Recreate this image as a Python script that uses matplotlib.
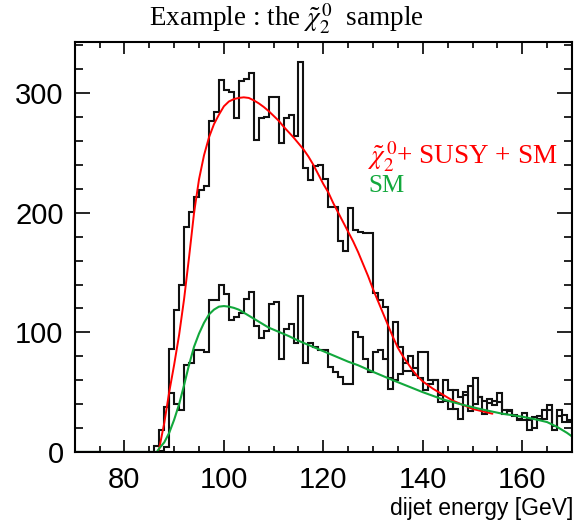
import numpy as np
import matplotlib
matplotlib.use("Agg")
import matplotlib.pyplot as plt

# ---- data -------------------------------------------------------------
# 1 GeV bins from 70 to 170 GeV; bins below 86 GeV are empty
bin_edges = np.arange(70, 171, 1)
first_filled_bin = 86

# chi2^0 + SUSY + SM sample, bins 86..169
signal_counts = [
    5, 18, 38, 86, 119, 140, 188, 201, 213, 219,          # 86-95
    222, 277, 284, 311, 303, 301, 279, 310, 312, 317,     # 96-105
    261, 279, 280, 297, 297, 258, 279, 282, 264, 326,     # 106-115
    237, 227, 239, 240, 228, 205, 205, 176, 168, 204,     # 116-125
    186, 184, 183, 183, 133, 127, 121, 53, 109, 88,       # 126-135
    68, 68, 64, 84, 84, 60, 60, 42, 60, 52,               # 136-145
    36, 28, 50, 34, 62, 46, 32, 41, 43, 49,               # 146-155
    35, 34, 31, 27, 27, 18, 29, 28, 35, 39,               # 156-165
    18, 35, 31, 27,                                       # 166-169
]

# SM-only sample, bins 86..169
sm_counts = [
    0, 1, 4, 49, 40, 35, 73, 74, 85, 85,                  # 86-95
    84, 127, 127, 140, 132, 110, 113, 116, 128, 134,      # 96-105
    105, 95, 101, 124, 125, 78, 103, 107, 91, 130,        # 106-115
    74, 91, 88, 85, 85, 71, 67, 63, 57, 57,               # 116-125
    100, 96, 78, 67, 84, 85, 78, 62, 60, 65,              # 126-135
    74, 80, 70, 62, 52, 57, 60, 48, 43, 36,               # 136-145
    52, 46, 48, 55, 40, 46, 43, 44, 39, 42,               # 146-155
    32, 35, 30, 28, 33, 27, 20, 30, 28, 35,               # 156-165
    22, 30, 25, 25,                                       # 166-169
]

# fitted shapes
fit_total_x = [86.7, 87, 88, 89, 90, 91, 92, 93, 94, 95, 96, 97, 98, 99, 100,
               101, 102, 103, 104, 105, 106, 107, 108, 109, 110, 111, 112, 113,
               114, 115, 116, 117, 118, 119, 120, 121, 122, 123, 124, 125, 126,
               127, 128, 129, 130, 131, 132, 133, 134, 135, 136, 137, 138, 139,
               140, 142, 144, 146, 148, 150, 152, 154]
fit_total_y = [0, 3, 24, 50, 73, 98, 128, 163, 200, 228, 248, 263, 274, 282, 289,
               293, 295, 296, 296.5, 296, 294, 291.5, 288.5, 285, 281, 277, 272,
               267.5, 263, 258, 253, 247, 240, 232, 224, 217, 208, 200, 192, 184,
               176, 167, 157, 147, 136, 126, 116, 106, 96, 87, 80, 74, 68, 63,
               59, 53, 48, 43, 39.5, 36, 34, 32]

fit_sm_x = [70, 86.5, 87, 88, 89, 90, 91, 92, 93, 94, 95, 96, 97, 98, 99, 100,
            101, 102, 103, 105, 107, 109, 111, 113, 115, 117, 119, 121, 123, 125,
            127, 130, 134, 137, 140, 144, 148, 152, 156, 160, 163, 165, 167, 169,
            170]
fit_sm_y = [0, 0, 3, 8, 16, 27, 40, 56, 73, 88, 99, 108, 115, 119, 121.5, 122,
            121.5, 120.5, 119, 114, 109, 104, 100.5, 97, 93, 89.5, 86, 82.5, 79,
            75.5, 72.5, 67, 60, 55, 50, 44, 39.5, 35.5, 32, 29.5, 27, 25, 21, 16,
            13]

x_ticks = [80, 100, 120, 140, 160]
y_ticks = [0, 100, 200, 300]

title_text = r"Example : the $\tilde{\chi}_2^{\,0}$  sample"
label_total = r"$\tilde{\chi}_2^{\,0}$+ SUSY + SM"
label_sm = "SM"
x_label = "dijet energy [GeV]"

# ---- figure -------------------------------------------------------------
plt.rcParams["mathtext.fontset"] = "stix"
W, H = 575, 523
fig = plt.figure(figsize=(W / 100, H / 100), dpi=100)
ax = fig.add_axes([74.7 / W, 1 - 452 / H, (572 - 74.7) / W, (452 - 41.7) / H])

n_empty = first_filled_bin - bin_edges[0]
full_signal = np.concatenate([np.zeros(n_empty), signal_counts])
full_sm = np.concatenate([np.zeros(n_empty), sm_counts])

hist_kw = dict(color="#111111", lw=1.5, baseline=None)
ax.stairs(full_signal, bin_edges, **hist_kw)
ax.stairs(full_sm, bin_edges, **hist_kw)

red = "#ff0000"
green = "#12a83c"
ax.plot(fit_total_x, fit_total_y, color=red, lw=1.4, solid_capstyle="round")
ax.plot(fit_sm_x, fit_sm_y, color=green, lw=1.5, solid_capstyle="round")

ax.set_xlim(70, 170)
ax.set_ylim(0, 343)

ax.set_xticks(x_ticks)
ax.set_xticks(np.arange(70, 171, 5), minor=True)
ax.set_yticks(y_ticks)
ax.set_yticks(np.arange(0, 343, 20), minor=True)

for s in ax.spines.values():
    s.set_linewidth(1.5)

ax.tick_params(axis="both", which="both", direction="in", top=True, right=True,
               width=1.2, colors="black")
ax.tick_params(axis="x", which="major", length=8.5, pad=10)
ax.tick_params(axis="x", which="minor", length=4.3)
ax.tick_params(axis="y", which="major", length=10.5, pad=8)
ax.tick_params(axis="y", which="minor", length=5.5)

for lab in ax.get_xticklabels() + ax.get_yticklabels():
    lab.set_fontfamily("Liberation Sans")
    lab.set_fontsize(21)

fig.text(573 / W, 1 - 508 / H, x_label, ha="right", va="center",
         family="Liberation Sans", fontsize=16.5)

fig.text(286 / W, 1 - 19 / H, title_text, ha="center", va="center",
         family="Liberation Serif", fontsize=19.5)

fig.text(368 / W, 1 - 157 / H, label_total, ha="left", va="center",
         family="Liberation Serif", fontsize=19.5, color=red)
fig.text(368 / W, 1 - 186 / H, label_sm, ha="left", va="center",
         family="Liberation Serif", fontsize=18, color=green)

fig.savefig("out.png", dpi=100)
